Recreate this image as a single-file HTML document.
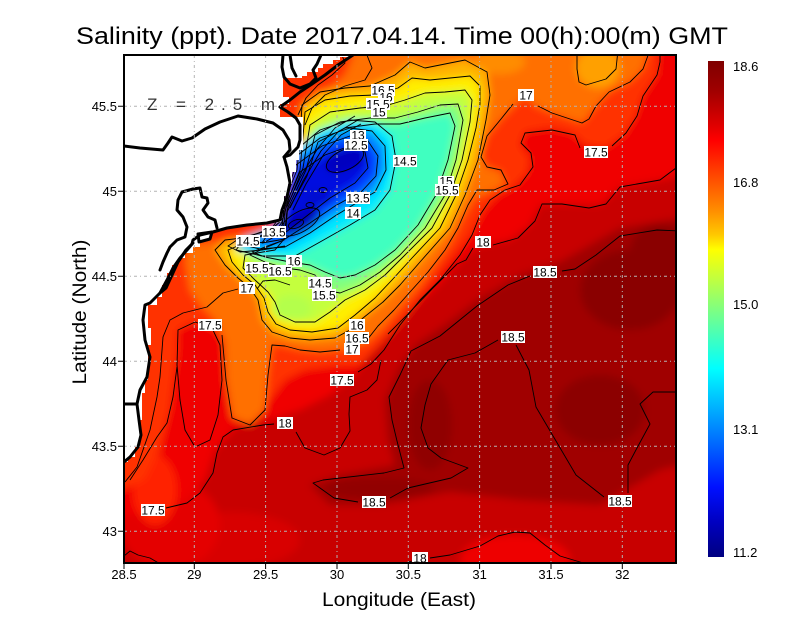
<!DOCTYPE html>
<html><head><meta charset="utf-8"><style>
html,body{margin:0;padding:0;background:#fff;}
svg{display:block;}
</style></head><body>
<svg width="800" height="618" viewBox="0 0 800 618" xmlns="http://www.w3.org/2000/svg" font-family="'Liberation Sans', sans-serif">
<defs>
 <clipPath id="c"><rect x="124" y="55" width="552" height="508"/></clipPath>
 <filter id="b" x="-10%" y="-10%" width="120%" height="120%"><feGaussianBlur stdDeviation="4"/></filter>
 <linearGradient id="cb" x1="0" y1="0" x2="0" y2="1">
  <stop offset="0" stop-color="#7f0000"/>
  <stop offset="0.06" stop-color="#a00000"/>
  <stop offset="0.13" stop-color="#e00000"/>
  <stop offset="0.16" stop-color="#ff0000"/>
  <stop offset="0.24" stop-color="#ff5000"/>
  <stop offset="0.30" stop-color="#ff8c00"/>
  <stop offset="0.35" stop-color="#ffc800"/>
  <stop offset="0.38" stop-color="#ffff00"/>
  <stop offset="0.44" stop-color="#c0ff40"/>
  <stop offset="0.50" stop-color="#80ff80"/>
  <stop offset="0.56" stop-color="#40ffc0"/>
  <stop offset="0.62" stop-color="#00ffff"/>
  <stop offset="0.70" stop-color="#00b0ff"/>
  <stop offset="0.78" stop-color="#0060ff"/>
  <stop offset="0.86" stop-color="#0010ff"/>
  <stop offset="0.93" stop-color="#0000c0"/>
  <stop offset="1" stop-color="#000080"/>
 </linearGradient>
 <path id="z5b" d="M178,330 L195,322 L212,328 L220,345 L222,380 L218,415 L210,440 L195,447 L185,430 L180,400 L177,365 Z"/>
 <path id="z8" d="M302,105 L320,92 L345,88 L370,86 L395,75 L410,62 L425,68 L440,65 L465,60 L487,72 L490,95 L486,120 L478,160 L465,195 L450,228 L420,262 L400,285 L383,302 L363,318 L350,330 L335,338 L310,340 L290,338 L272,332 L262,320 L258,300 L250,288 L238,278 L225,265 L215,250 L225,240 L260,236 L282,226 L285,200 L297,170 L300,140 Z"/>
 <path id="z9" d="M305,112 L325,100 L350,96 L375,95 L398,88 L412,78 L430,80 L450,78 L470,76 L480,86 L480,104 L476,128 L468,160 L456,195 L440,228 L412,258 L392,280 L375,298 L355,315 L338,328 L312,332 L290,330 L276,324 L268,312 L264,298 L255,285 L243,275 L232,262 L228,250 L240,245 L265,242 L283,232 L286,205 L300,170 L304,125 Z"/>
 <path id="z10" d="M310,125 L330,112 L360,108 L385,106 L405,100 L425,93 L445,92 L465,90 L472,100 L470,122 L462,160 L450,195 L432,228 L405,255 L385,275 L365,290 L345,300 L330,312 L315,322 L295,322 L280,315 L275,302 L268,292 L255,280 L243,268 L245,255 L275,250 L285,238 L288,205 L303,168 Z"/>
 <path id="z11" d="M315,135 L340,122 L370,118 L395,118 L418,112 L440,105 L458,104 L463,120 L456,160 L445,195 L425,228 L400,255 L380,272 L360,285 L340,293 L325,290 L315,275 L300,270 L285,268 L265,262 L250,255 L265,248 L284,240 L287,210 L306,170 Z"/>
 <path id="z12" d="M318,142 L345,128 L375,124 L400,124 L425,118 L450,113 L455,126 L448,160 L436,195 L418,225 L395,250 L375,265 L355,275 L340,278 L325,272 L310,265 L290,262 L265,257 L252,252 L270,245 L284,240 L287,212 L307,176 Z"/>
 <path id="z13" d="M296,150 L320,130 L350,120 L375,122 L392,136 L396,160 L390,190 L375,210 L350,225 L320,242 L295,256 L262,256 L236,250 L245,238 L272,228 L283,212 L288,190 Z"/>
 <path id="z14" d="M294,158 L320,138 L350,128 L372,131 L385,146 L386,170 L375,192 L358,202 L335,216 L310,233 L285,247 L260,249 L243,245 L262,236 L280,222 L285,195 Z"/>
 <path id="z15" d="M296,165 L322,146 L350,136 L368,141 L378,156 L376,176 L362,191 L335,206 L310,223 L285,239 L262,243 L268,234 L283,218 L287,192 Z"/>
 <path id="z16" d="M300,172 L325,155 L350,146 L365,152 L368,168 L355,183 L330,198 L308,215 L286,232 L272,237 L282,222 L290,195 Z"/>
</defs>

<!-- Title -->
<text x="76" y="44" font-size="24" textLength="652" lengthAdjust="spacingAndGlyphs" fill="#000">Salinity (ppt). Date 2017.04.14. Time 00(h):00(m) GMT</text>

<g clip-path="url(#c)">
 <g filter="url(#b)">
  <rect x="100" y="40" width="600" height="540" fill="#c80000"/>
  <path fill="#a00000" d="M700,215 L657,222 L620,228 L590,245 L560,262 L520,275 L480,298 L445,325 L415,345 L398,370 L385,400 L388,440 L395,465 L340,475 L310,485 L330,505 L380,505 L450,492 L520,500 L600,505 L660,470 L700,460 Z"/>
  <ellipse cx="630" cy="290" rx="50" ry="40" fill="#8a0000"/>
  <ellipse cx="660" cy="250" rx="30" ry="25" fill="#8a0000"/>
  <ellipse cx="600" cy="410" rx="45" ry="35" fill="#8c0000"/>
  <ellipse cx="430" cy="425" rx="22" ry="45" fill="#900000"/>
  <ellipse cx="380" cy="488" rx="55" ry="10" fill="#920000"/>
  <ellipse cx="515" cy="560" rx="55" ry="25" fill="#ee0000"/>
  <ellipse cx="230" cy="540" rx="70" ry="28" fill="#d80000"/>
  <ellipse cx="170" cy="525" rx="50" ry="45" fill="#e40000"/>
  <path fill="#f00000" d="M100,40 L700,40 L700,170 L660,180 L620,187 L600,205 L560,204 L540,205 L530,225 L510,240 L478,246 L460,262 L435,288 L405,315 L380,340 L355,375 L330,395 L300,410 L270,420 L235,428 L215,450 L205,480 L185,500 L150,510 L100,520 Z"/>
  <ellipse cx="155" cy="490" rx="22" ry="35" fill="#ff2000"/>
  <path fill="#ff3300" d="M100,40 L660,40 L657,75 L643,96 L635,118 L624,135 L605,148 L585,145 L572,133 L550,128 L525,132 L520,145 L530,158 L528,172 L515,186 L498,195 L484,210 L470,235 L452,258 L430,285 L405,318 L380,345 L360,365 L335,366 L305,370 L285,380 L270,400 L255,412 L240,408 L230,380 L225,345 L215,330 L195,322 L180,335 L175,370 L170,410 L160,450 L145,480 L100,500 Z"/>
  <use href="#z5b" fill="#f00000"/>
  <path fill="#ff7000" d="M360,40 L650,40 L643,69 L630,82 L609,92 L596,106 L582,123 L552,113 L535,106 L526,96 L518,102 L501,119 L487,136 L481,157 L487,167 L501,172 L505,184 L490,192 L475,198 L463,218 L452,240 L437,262 L420,285 L400,308 L383,328 L368,342 L345,350 L320,352 L300,350 L280,345 L272,345 L268,375 L265,410 L250,425 L232,418 L226,380 L224,340 L215,320 L200,305 L190,290 L185,260 L190,245 L230,240 L280,230 L292,200 L300,165 L303,120 L312,100 L330,88 L345,75 Z"/>
  <ellipse cx="598" cy="68" rx="22" ry="20" fill="#ffa000"/>
  <ellipse cx="500" cy="62" rx="25" ry="12" fill="#ff8c00"/>
  <use href="#z8" fill="#ffb400"/>
  <use href="#z9" fill="#ffee00"/>
  <use href="#z10" fill="#c4ff3c"/>
  <use href="#z11" fill="#84ff7c"/>
  <ellipse cx="292" cy="308" rx="20" ry="13" fill="#b4ff4c"/>
  <use href="#z12" fill="#40ffc0"/>
  <use href="#z13" fill="#00e8ff"/>
  <use href="#z14" fill="#0090ff"/>
  <use href="#z15" fill="#0040ff"/>
  <use href="#z16" fill="#0010e0"/>
  <ellipse cx="345" cy="160" rx="22" ry="11" fill="#0000c0" transform="rotate(-25 345 160)"/>
  <ellipse cx="300" cy="222" rx="22" ry="9" fill="#0000b8" transform="rotate(-30 300 222)"/>
  <ellipse cx="318" cy="198" rx="14" ry="8" fill="#0008d0"/>
 </g>

 <!-- contours -->
 <g stroke="#000" fill="none" stroke-width="0.9" stroke-linejoin="round">
  <use href="#z5b"/><use href="#z8"/><use href="#z9"/><use href="#z10"/><use href="#z11"/>
  <use href="#z12"/><use href="#z13"/><use href="#z14"/><use href="#z15"/><use href="#z16"/>
  <ellipse cx="345" cy="160" rx="20" ry="10" transform="rotate(-25 345 160)"/>
  <ellipse cx="300" cy="222" rx="22" ry="10" transform="rotate(-30 300 222)"/>
  <ellipse cx="296" cy="224" rx="8" ry="4" transform="rotate(-20 296 224)"/>
  <ellipse cx="310" cy="205" rx="4" ry="2.5"/>
  <ellipse cx="323" cy="190" rx="4" ry="2.5"/>
  <path d="M287,206 L300,178 L318,148 L335,128 L355,116"/>
  <path d="M290,208 L303,181 L321,151 L338,132 L358,120"/>
  <path d="M293,210 L306,184 L324,154 L341,135 L361,124"/>
  <path d="M280,227 L260,233 L240,238 L228,246 L240,252 L262,250 L285,246"/>
  <path d="M680,231 L657,230 L620,236 L596,255 L575,269 L562,271"/>
  <path d="M530,276 L508,285 L477,306 L440,336 L411,351 L400,375 L389,397 L392,420 L397,441 L404,468 L384,473 L323,480 L313,483 L334,498 L358,502"/>
  <path d="M390,498 L408,488 L451,478 L468,468 L441,458 L428,448 L421,428 L425,405 L431,384 L448,360 L475,353 L498,340"/>
  <path d="M516,345 L529,370 L536,407 L556,441 L576,475 L604,497"/>
  <path d="M680,392 L653,392 L640,404 L650,424 L637,448 L628,465 L628,493"/>
  <path d="M400,565 L412,561"/>
  <path d="M430,558 L450,555 L480,546 L498,536 L515,532 L530,533 L545,545 L560,556 L580,562 L590,565"/>
  <path d="M680,165 L660,180 L637,184 L620,187 L606,204 L589,208 L562,204 L542,204 L535,221 L518,238 L493,245"/>
  <path d="M473,248 L466,260 L457,264 L433,288 L407,315 L388,334"/>
  <path d="M381,360 L377,380 L367,390 L350,397 L349,414 L350,431 L340,448 L324,455 L305,448 L296,432"/>
  <path d="M274,424 L263,425 L233,430 L223,437 L217,453 L213,473 L200,493 L187,503 L166,508"/>
  <path d="M660,50 L660,62 L657,75 L643,96 L637,116 L626,133 L612,146"/>
  <path d="M580,148 L575,135 L552,130 L525,133 L521,143 L531,153 L533,167 L520,185 L505,190 L490,200 L480,215 L472,235 L460,255 L440,280 L420,300 L400,325 L384,350 L371,364 L358,372"/>
  <path d="M650,50 L643,69 L630,82 L609,92 L596,106 L589,119 L582,123 L552,113 L538,106"/>
  <path d="M513,104 L501,119 L487,136 L481,157 L487,167 L501,170 L508,184 L494,190 L477,190 L468,205 L458,228 L445,250 L428,272 L410,292 L394,310 L378,326 L367,340"/>
  <path d="M577,50 L577,69 L579,82 L586,85 L606,79 L616,69 L618,50"/>
  <path d="M365,50 L372,68 L365,80 L345,86 L325,95 L312,108 L305,125"/>
  <path d="M340,50 L345,63 L332,75 L318,85 L306,98 L298,115"/>
  <path d="M125,482 L137,467 L150,430 L157,397 L160,377 L163,337 L170,320 L183,313 L207,307 L223,293 L238,289"/>
  <path d="M130,480 L143,460 L157,437 L167,423 L173,397 L177,367"/>
  <path d="M222,335 L226,380 L232,418 L250,425 L265,410 L268,375 L272,345 L285,346 L300,350 L320,352 L340,350"/>
  <path d="M257,289 L263,281 L275,280 L290,285"/>
  <path d="M124,556 L130,551 L138,555 L150,558 L162,565"/>
 </g>

 <!-- land -->
 <path fill="#fff" d="M124,55 L350,55 L348,57 L340,57 L340,60 L333,60 L333,64 L323,64 L323,68 L318,68 L318,72 L307,72 L307,76 L302,76 L302,78 L283,78 L283,97 L289,97 L289,104 L280,104 L280,117 L303,117 L303,150 L299,150 L299,160 L296,160 L296,172 L292,172 L292,184 L288,184 L288,196 L284,196 L284,210 L281,210 L281,222 L260,224 L240,226 L225,228 L214,230 L210,232 L210,240 L200,240 L200,247 L193,247 L193,253 L185,253 L185,258 L178,258 L178,265 L172,265 L172,273 L167,273 L167,285 L162,285 L162,297 L157,297 L157,305 L148,305 L148,328 L151,328 L151,345 L148,345 L148,380 L145,380 L145,393 L142,393 L142,420 L140,420 L140,447 L135,447 L135,457 L128,457 L128,462 L124,462 Z"/>

 <!-- coast -->
 <g stroke="#000" fill="none" stroke-width="3" stroke-linejoin="round" stroke-linecap="round">
  <path d="M283,55 L282,67 L284,77 L290,84 L300,88 L310,84 L316,78 L313,70 L317,64 L321,55"/>
  <path d="M290,55 L292,68 L296,76"/>
  <path d="M280,107 L290,100 L300,92 L312,84 L325,75 L338,65 L350,57 L353,55"/>
  <path d="M280,107 L288,112 L296,118 L300,125 L300,140 L298,147 L290,155 L284,157 L287,167 L290,183 L287,197 L282,210 L280,220 L267,223 L247,225 L227,228 L213,232 L200,235 L193,240 L192,244 L187,250 L180,258 L173,268 L167,280 L160,293 L150,303 L145,305 L143,320 L145,340 L150,357 L147,377 L140,390 L137,404 L139,420 L141,435 L138,447 L130,457 L124,462"/>
  <path d="M124,404 L137,404"/>
  <path d="M124,146 L140,148 L163,150 L168,143 L172,137 L182,141 L192,138 L205,129 L220,122 L238,116 L257,119 L273,123 L283,130 L289,140 L290,150 L284,157"/>
  <path d="M193,189 L200,188 L202,197 L207,198 L208,203 L203,210 L208,217 L215,220 L217,228"/>
  <path d="M193,189 L182,192 L178,200 L177,210 L183,217 L187,227 L185,237 L177,240 L170,247 L167,253 L163,262 L160,270"/>
  <path d="M193,243 L186,250 L178,262 L172,275 L166,288 L160,293"/>
  <path d="M198,234 L212,232 L210,239 L199,242 Z"/>
 </g>

 <!-- grid -->
 <g stroke="#b4b4b4" stroke-width="1" stroke-dasharray="3 3 1 3" fill="none">
  <path d="M194.3,55 V563 M265.6,55 V563 M337,55 V563 M408.3,55 V563 M479.6,55 V563 M551,55 V563 M622.3,55 V563"/>
  <path d="M124,106.3 H676 M124,191.3 H676 M124,276.3 H676 M124,361.3 H676 M124,446.3 H676 M124,531.3 H676"/>
 </g>

 <text x="147" y="110" font-size="17" fill="#333" textLength="128" lengthAdjust="spacing">Z = 2.5 m</text>

 <!-- contour labels -->
 <g font-size="12" text-anchor="middle" fill="#000">
  <rect x="371" y="84" width="24" height="12" fill="#fff"/><text x="383" y="94.5">16.5</text>
  <rect x="378" y="92" width="16" height="11" fill="#fff"/><text x="386" y="101.5">16</text>
  <rect x="366" y="98" width="24" height="12" fill="#fff"/><text x="378" y="108.5">15.5</text>
  <rect x="371" y="106" width="16" height="12" fill="#fff"/><text x="379" y="116.5">15</text>
  <rect x="350" y="130" width="16" height="11" fill="#fff"/><text x="358" y="139.5">13</text>
  <rect x="344" y="139" width="24" height="12" fill="#fff"/><text x="356" y="149.5">12.5</text>
  <rect x="393" y="155" width="24" height="12" fill="#fff"/><text x="405" y="165.5">14.5</text>
  <rect x="438" y="176" width="16" height="11" fill="#fff"/><text x="446" y="185.5">15</text>
  <rect x="435" y="184" width="24" height="12" fill="#fff"/><text x="447" y="194.5">15.5</text>
  <rect x="346" y="192" width="24" height="12" fill="#fff"/><text x="358" y="202.5">13.5</text>
  <rect x="345" y="207" width="16" height="12" fill="#fff"/><text x="353" y="217.5">14</text>
  <rect x="262" y="226" width="24" height="12" fill="#fff"/><text x="274" y="236.5">13.5</text>
  <rect x="236" y="235" width="24" height="12" fill="#fff"/><text x="248" y="245.5">14.5</text>
  <rect x="286" y="255" width="16" height="12" fill="#fff"/><text x="294" y="265.5">16</text>
  <rect x="245" y="262" width="24" height="12" fill="#fff"/><text x="257" y="272.5">15.5</text>
  <rect x="268" y="265" width="24" height="12" fill="#fff"/><text x="280" y="275.5">16.5</text>
  <rect x="239" y="282" width="16" height="12" fill="#fff"/><text x="247" y="292.5">17</text>
  <rect x="308" y="277" width="24" height="12" fill="#fff"/><text x="320" y="287.5">14.5</text>
  <rect x="312" y="289" width="24" height="12" fill="#fff"/><text x="324" y="299.5">15.5</text>
  <rect x="349" y="319" width="16" height="12" fill="#fff"/><text x="357" y="329.5">16</text>
  <rect x="345" y="332" width="24" height="12" fill="#fff"/><text x="357" y="342.5">16.5</text>
  <rect x="344" y="343" width="16" height="12" fill="#fff"/><text x="352" y="353.5">17</text>
  <rect x="330" y="374" width="24" height="12" fill="#fff"/><text x="342" y="384.5">17.5</text>
  <rect x="198" y="319" width="24" height="12" fill="#fff"/><text x="210" y="329.5">17.5</text>
  <rect x="277" y="417" width="16" height="12" fill="#fff"/><text x="285" y="427.5">18</text>
  <rect x="141" y="504" width="24" height="12" fill="#fff"/><text x="153" y="514.5">17.5</text>
  <rect x="362" y="496" width="24" height="12" fill="#fff"/><text x="374" y="506.5">18.5</text>
  <rect x="608" y="495" width="24" height="12" fill="#fff"/><text x="620" y="505.5">18.5</text>
  <rect x="412" y="552" width="16" height="12" fill="#fff"/><text x="420" y="562.5">18</text>
  <rect x="501" y="331" width="24" height="12" fill="#fff"/><text x="513" y="341.5">18.5</text>
  <rect x="533" y="266" width="24" height="12" fill="#fff"/><text x="545" y="276.5">18.5</text>
  <rect x="475" y="236" width="16" height="12" fill="#fff"/><text x="483" y="246.5">18</text>
  <rect x="584" y="146" width="24" height="12" fill="#fff"/><text x="596" y="156.5">17.5</text>
  <rect x="518" y="89" width="16" height="12" fill="#fff"/><text x="526" y="99.5">17</text>
 </g>
</g>

<!-- frame -->
<rect x="124" y="55" width="552" height="508" fill="none" stroke="#000" stroke-width="2"/>

<!-- ticks -->
<g stroke="#000" stroke-width="1">
 <path d="M118,106.3 H124 M118,191.3 H124 M118,276.3 H124 M118,361.3 H124 M118,446.3 H124 M118,531.3 H124"/>
 <path d="M124,563 V569 M194.3,563 V569 M265.6,563 V569 M337,563 V569 M408.3,563 V569 M479.6,563 V569 M551,563 V569 M622.3,563 V569"/>
</g>
<g font-size="13" fill="#000" text-anchor="end">
 <text x="117" y="111">45.5</text>
 <text x="117" y="196">45</text>
 <text x="117" y="281">44.5</text>
 <text x="117" y="366">44</text>
 <text x="117" y="451">43.5</text>
 <text x="117" y="536">43</text>
</g>
<g font-size="13" fill="#000" text-anchor="middle">
 <text x="124" y="579">28.5</text>
 <text x="194.3" y="579">29</text>
 <text x="265.6" y="579">29.5</text>
 <text x="337" y="579">30</text>
 <text x="408.3" y="579">30.5</text>
 <text x="479.6" y="579">31</text>
 <text x="551" y="579">31.5</text>
 <text x="622.3" y="579">32</text>
</g>
<text x="399" y="606" font-size="19" text-anchor="middle" textLength="154" lengthAdjust="spacingAndGlyphs">Longitude (East)</text>
<text transform="translate(86,312) rotate(-90)" font-size="19" text-anchor="middle" textLength="145" lengthAdjust="spacingAndGlyphs">Latitude (North)</text>

<!-- colorbar -->
<rect x="708" y="61" width="16" height="496" fill="url(#cb)"/>
<g font-size="13" fill="#000">
 <text x="733" y="71">18.6</text>
 <text x="733" y="187">16.8</text>
 <text x="733" y="309">15.0</text>
 <text x="733" y="434">13.1</text>
 <text x="733" y="557">11.2</text>
</g>
</svg>
</body></html>
